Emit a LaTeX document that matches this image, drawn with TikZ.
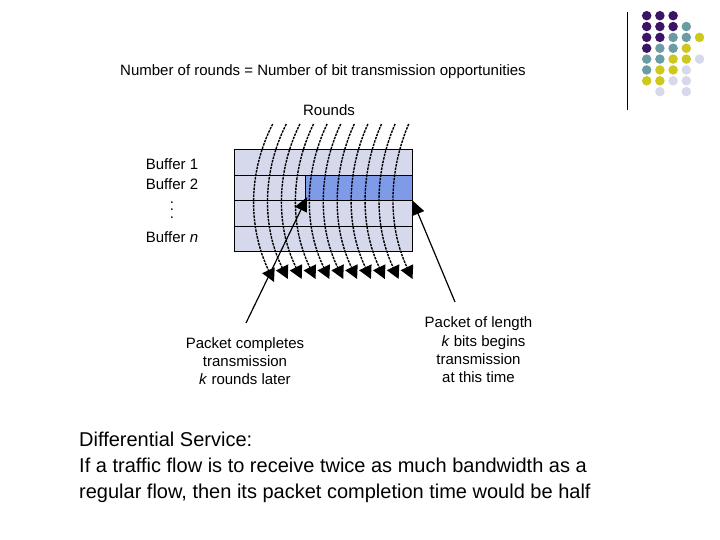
\documentclass[tikz,border=0pt]{standalone}
\usepackage{fontspec}
\setmainfont{Liberation Sans}
\usetikzlibrary{arrows.meta}
\definecolor{plum}{HTML}{3C1464}
\definecolor{teal2}{HTML}{6B9CA3}
\definecolor{olive2}{HTML}{CDC81E}
\definecolor{lav}{HTML}{D6D8EC}
\definecolor{blue2}{HTML}{7F9BE8}
\tikzset{
 cellbox/.style={draw=black,fill=lav,line width=0.8pt},
 bluebox/.style={draw=black,fill=blue2,line width=0.8pt},
 label/.style={font=\fontsize{15}{18.3}\selectfont,align=center,inner sep=0pt},
 bigt/.style={font=\fontsize{20}{26}\selectfont,align=left,inner sep=0pt,anchor=north west},
 round/.style={draw=black,dash pattern=on 2.5pt off 1pt,line width=1.4pt,-{Triangle[length=13pt,width=13.5pt]}},
 pointer/.style={draw=black,line width=1.2pt,-{Triangle[length=14pt,width=13pt]}},
 dotm/.style={circle,minimum width=9.5pt,minimum height=9pt,inner sep=0pt,fill=#1}
}
\begin{document}
\begin{tikzpicture}[x=1pt,y=-1pt]
\useasboundingbox (0,0) rectangle (720,540);
\fill[white] (0,0) rectangle (720,540);
% decoration
\draw[line width=1pt] (627.5,12) -- (627.5,110);
\foreach \c/\r/\k in {1/1/plum,2/1/plum,3/1/plum,
 1/2/plum,2/2/plum,3/2/plum,4/2/teal2,
 1/3/plum,2/3/plum,3/3/teal2,4/3/teal2,5/3/olive2,
 1/4/plum,2/4/teal2,3/4/teal2,4/4/olive2,
 1/5/teal2,2/5/teal2,3/5/olive2,4/5/olive2,5/5/lav,
 1/6/teal2,2/6/olive2,3/6/olive2,4/6/lav,
 1/7/olive2,2/7/olive2,3/7/lav,4/7/lav,
 2/8/lav,4/8/lav}{
 \node[dotm=\k] (d\c\r) at ({646.7+13.2*(\c-1)},{15.7+10.85*(\r-1)}) {};
}
% buffers
\node[cellbox,minimum width=178pt,minimum height=26pt,inner sep=0pt] (b1) at (323.3,162.3) {};
\node[cellbox,minimum width=178pt,minimum height=25pt,inner sep=0pt] (b2) at (323.3,187.8) {};
\node[bluebox,minimum width=106.6pt,minimum height=25pt,inner sep=0pt] (b2b) at (359,187.8) {};
\node[cellbox,minimum width=178pt,minimum height=26pt,inner sep=0pt] (b3) at (323.3,213.3) {};
\node[cellbox,minimum width=178pt,minimum height=25pt,inner sep=0pt] (b4) at (323.3,238.8) {};
% rounds
\foreach \i in {0,...,10}{
 \coordinate (t\i) at ({272.7+13.6*\i},124);
 \coordinate (e\i) at ({274+13.85*\i},{\i==0 ? 282 : 279});
 \draw[round] (t\i) .. controls ({249+14*\i},170) and ({247+14*\i},225) .. (e\i);
}
% pointers
\coordinate (p1) at (246,323);
\coordinate (p2) at (455,302);
\draw[pointer,shorten >=-4pt] (p1) -- (b2b.south west);
\draw[pointer] (p2) -- (b2b.south east);
% text
\node[label] (title) at (323,72) {Number of rounds = Number of bit transmission opportunities};
\node[label] (rounds) at (329,110.5) {Rounds};
\node[label] (bf1) at (172,164) {Buffer 1};
\node[label] (bf2) at (172,184) {Buffer 2};
\node[label,font=\fontsize{15}{7.5}\selectfont,anchor=base] (vd) at (172,218.5) {.\\.\\.};
\node[label] (bfn) at (172,237) {Buffer \textit{n}};
\node[label] (pc) at (245,361) {Packet completes\\transmission\\\textit{k} rounds later};
\node[label] (pl) at (478.5,350) {Packet of length\\\hspace*{10pt}\textit{k} bits begins\\transmission\\at this time};
\node[bigt] (ds) at (79,432) {Differential Service:\\If a traffic flow is to receive twice as much bandwidth as a\\regular flow, then its packet completion time would be half};
\end{tikzpicture}
\end{document}
